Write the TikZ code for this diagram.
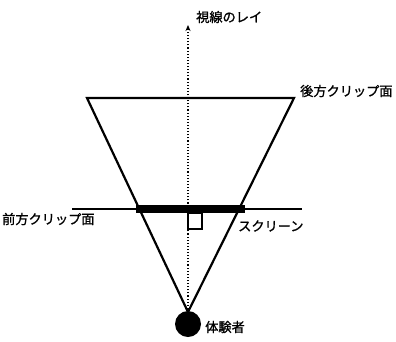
\documentclass[tikz,border=0pt]{standalone}
\usepackage{fontspec}
\newfontfamily\jpfont[FakeBold=1.2]{Noto Sans CJK JP}
\usetikzlibrary{arrows.meta}
\tikzset{
  label text/.style={font=\jpfont\fontsize{13.2}{15}\selectfont, inner sep=0pt, anchor=west},
}
\begin{document}
\begin{tikzpicture}[x=1pt, y=-1pt, >={Stealth[length=6pt, width=5pt]}]
	\useasboundingbox (0,0) rectangle (396,341);
	% 1. 基準点
	\coordinate (eye) at (188,312);
	\coordinate (farL) at (87,98);
	\coordinate (farR) at (294,98);
	\coordinate (nearL) at (72,209);
	\coordinate (nearR) at (302,209);
	\coordinate (scrL) at (136,209);
	\coordinate (scrR) at (245,209);
	\coordinate (rayEnd) at (188,25);
	
	% 2. 視錐台
	\draw[line width=2.2pt, line join=miter] (farL) -- (farR) -- (eye) -- cycle;
	
	% 3. 前方クリップ面とスクリーン
	\draw[line width=1.3pt] (nearL) -- (nearR);
	\draw[line width=8pt] (scrL) -- (scrR);
	
	% 4. 視線のレイ
	\draw[->, dotted, line width=1.1pt] (eye) -- (rayEnd);
	\draw[line width=1.7pt] (188,213) rectangle (202,229);
	
	% 5. 体験者
	\fill (188,324) circle (13);
	
	% 6. ラベル
	\node[label text] (rayText) at (196,17) {視線のレイ};
	\node[label text] (farText) at (300,91) {後方クリップ面};
	\node[label text] (nearText) at (2,219) {前方クリップ面};
	\node[label text] (scrText) at (238,226) {スクリーン};
	\node[label text] (userText) at (205,327) {体験者};
\end{tikzpicture}
\end{document}
